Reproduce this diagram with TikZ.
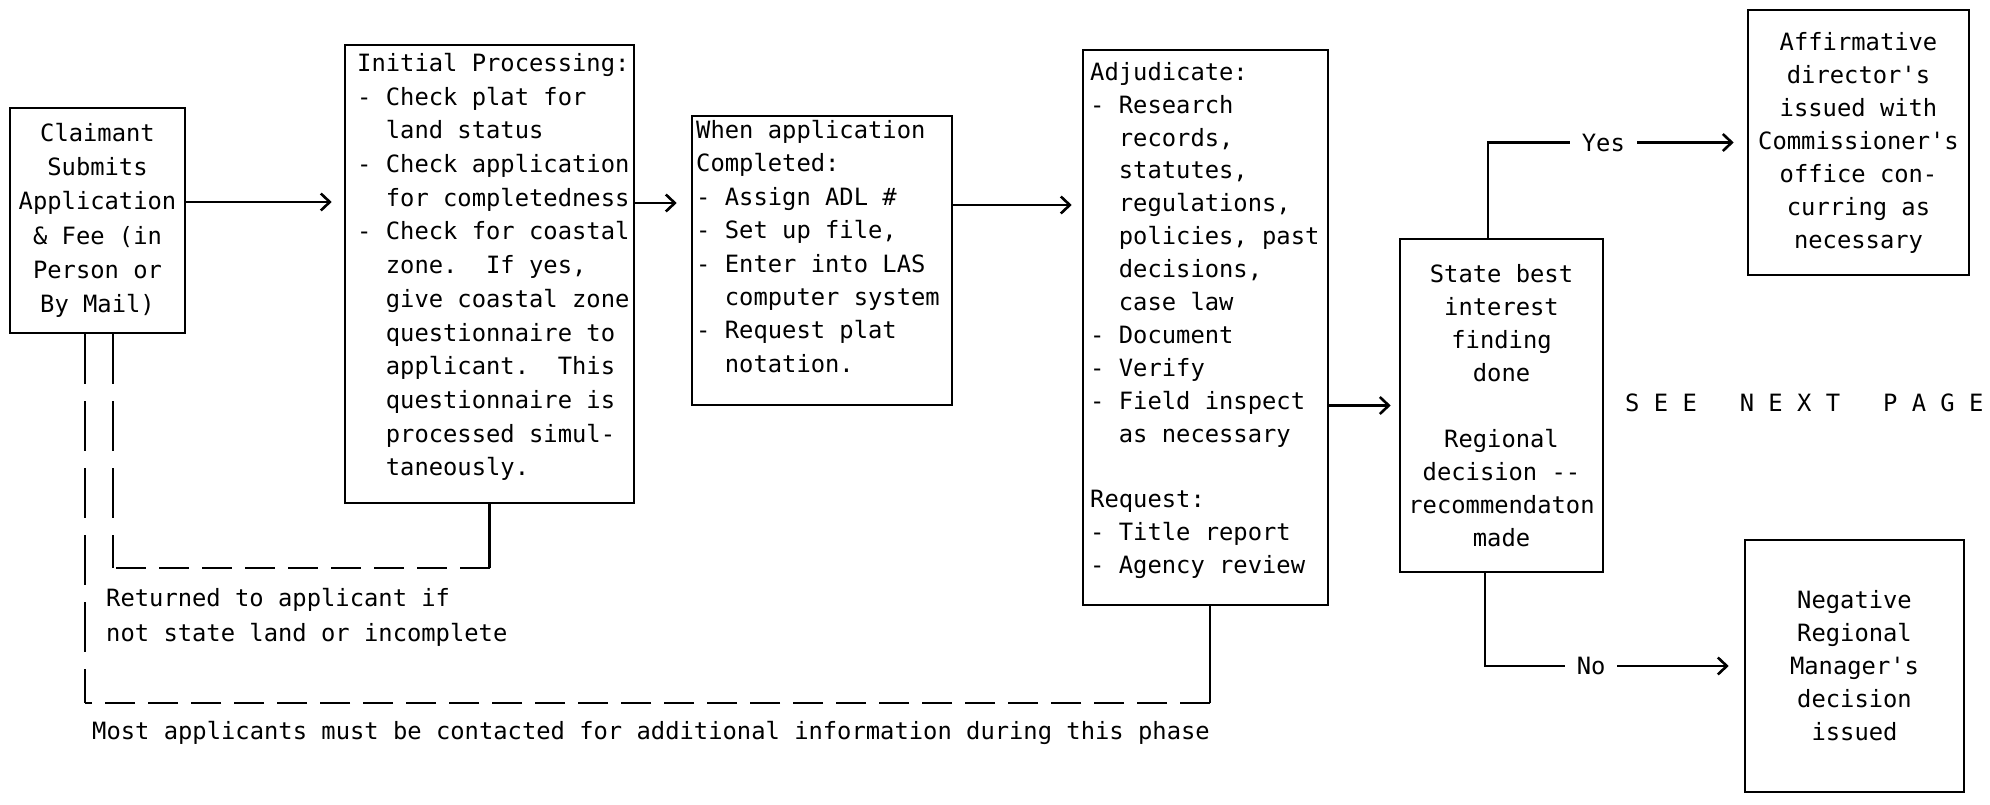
\documentclass[tikz,border=0pt]{standalone}
\usepackage{fontspec}
\setmonofont{DejaVu Sans Mono}
\usetikzlibrary{arrows.meta}
\newcommand{\ind}{\hphantom{MM}}
\newcommand{\tw}[1]{\ttfamily\fontsize{23.8}{#1}\selectfont}
\frenchspacing
\begin{document}
\begin{tikzpicture}[x=1pt,y=-1pt,
  box/.style={draw, line width=2.6pt, inner sep=0pt},
  ltext/.style={align=left, inner sep=0pt},
  ln/.style={line width=2.6pt},
  vdash/.style={line width=2.6pt, dash pattern=on 50pt off 17pt},
  hdash/.style={line width=2.6pt, dash pattern=on 30pt off 13pt},
  arr/.style={line width=2.6pt, -{Straight Barb[length=9pt,width=17pt]}},
  lbl/.style={fill=white, inner xsep=12pt, inner ysep=2pt, font=\tw{30}}]
\fill[white] (0,0) rectangle (1990,805);
\useasboundingbox (0,0) rectangle (1990,805);

% boxes
\node[box, minimum width=175pt, minimum height=225pt, align=center, font=\tw{34.3}] (b1) at (97.5,220.5)
  {Claimant\\Submits\\Application\\\& Fee (in\\Person or\\By Mail)};
\node[box, minimum width=289pt, minimum height=458pt] (b2) at (489.5,274) {};
\node[ltext, font=\tw{33.7}, anchor=north west] (t2) at (357,53)
  {Initial Processing:\\- Check plat for\\\ind land status\\- Check application\\\ind for completedness\\- Check for coastal\\\ind zone.\ \ If yes,\\\ind give coastal zone\\\ind questionnaire to\\\ind applicant.\ \ This\\\ind questionnaire is\\\ind processed simul-\\\ind taneously.};
\node[box, minimum width=260pt, minimum height=289pt] (b3) at (822,260.5) {};
\node[ltext, font=\tw{33.4}, anchor=north west] (t3) at (696,120)
  {When application\\Completed:\\- Assign ADL \#\\- Set up file,\\- Enter into LAS\\\ind computer system\\- Request plat\\\ind notation.};
\node[box, minimum width=245pt, minimum height=555pt] (b4) at (1205.5,327.5) {};
\node[ltext, font=\tw{32.9}, anchor=north west] (t4) at (1090,62)
  {Adjudicate:\\- Research\\\ind records,\\\ind statutes,\\\ind regulations,\\\ind policies, past\\\ind decisions,\\\ind case law\\- Document\\- Verify\\- Field inspect\\\ind as necessary\\[32.9pt]Request:\\- Title report\\- Agency review};
\node[box, minimum width=203pt, minimum height=333pt, align=center, font=\tw{33}] (b5) at (1501.5,405.5)
  {State best\\interest\\finding\\done\\[33pt]Regional\\decision --\\recommendaton\\made};
\node[box, minimum width=221pt, minimum height=265pt, align=center, font=\tw{33}] (b6) at (1858.5,142.5)
  {Affirmative\\director's\\issued with\\Commissioner's\\office con-\\curring as\\necessary};
\node[box, minimum width=219pt, minimum height=252pt, align=center, font=\tw{33}] (b7) at (1854.5,666)
  {Negative\\Regional\\Manager's\\decision\\issued};

% main arrows
\coordinate (a1) at ([yshift=18.5pt]b1.east);
\coordinate (a2) at ([yshift=71pt]b2.east);
\coordinate (a3) at ([yshift=55.5pt]b3.east);
\draw[arr, shorten >=12pt] (a1) -- (a1 -| b2.west);
\draw[arr, shorten >=14pt] (a2) -- (a2 -| b3.west);
\draw[arr, shorten >=10pt] (a3) -- (a3 -| b4.west);
\draw[arr, shorten >=8pt] (b4.east |- b5.west) -- (b5.west);

% decision branches
\coordinate (yt) at ([xshift=-13.5pt]b5.north);
\coordinate (nt) at ([xshift=-16.5pt]b5.south);
\draw[arr, shorten >=13pt] (yt) |- node[lbl, pos=0.723] (yes) {Yes} (b6.west);
\draw[arr, shorten >=15pt] (nt) |- node[lbl, pos=0.705] (no) {No} (b7.west);

% return lines
\coordinate (ri) at (113,568);
\coordinate (ro) at (85,703);
\coordinate (b4s) at ([xshift=4.5pt]b4.south);
\draw[ln] (b2.south) -- (b2.south |- ri);
\draw[hdash] (b2.south |- ri) -- (ri);
\draw[vdash] (ri |- b1.south) -- (ri);
\draw[ln] (b4s) -- (b4s |- ro);
\draw[hdash] (b4s |- ro) -- (ro);
\draw[vdash] (ro |- b1.south) -- (ro);

% free texts
\node[ltext, font=\tw{35}, anchor=north west] (ret) at (106,588)
  {Returned to applicant if\\not state land or incomplete};
\node[ltext, font=\tw{33}, anchor=base west] (most) at (92,739)
  {Most applicants must be contacted for additional information during this phase};
\node[ltext, font=\tw{33}, anchor=west] (see) at (1625,403)
  {S E E\ \ \ N E X T\ \ \ P A G E};
\end{tikzpicture}
\end{document}
